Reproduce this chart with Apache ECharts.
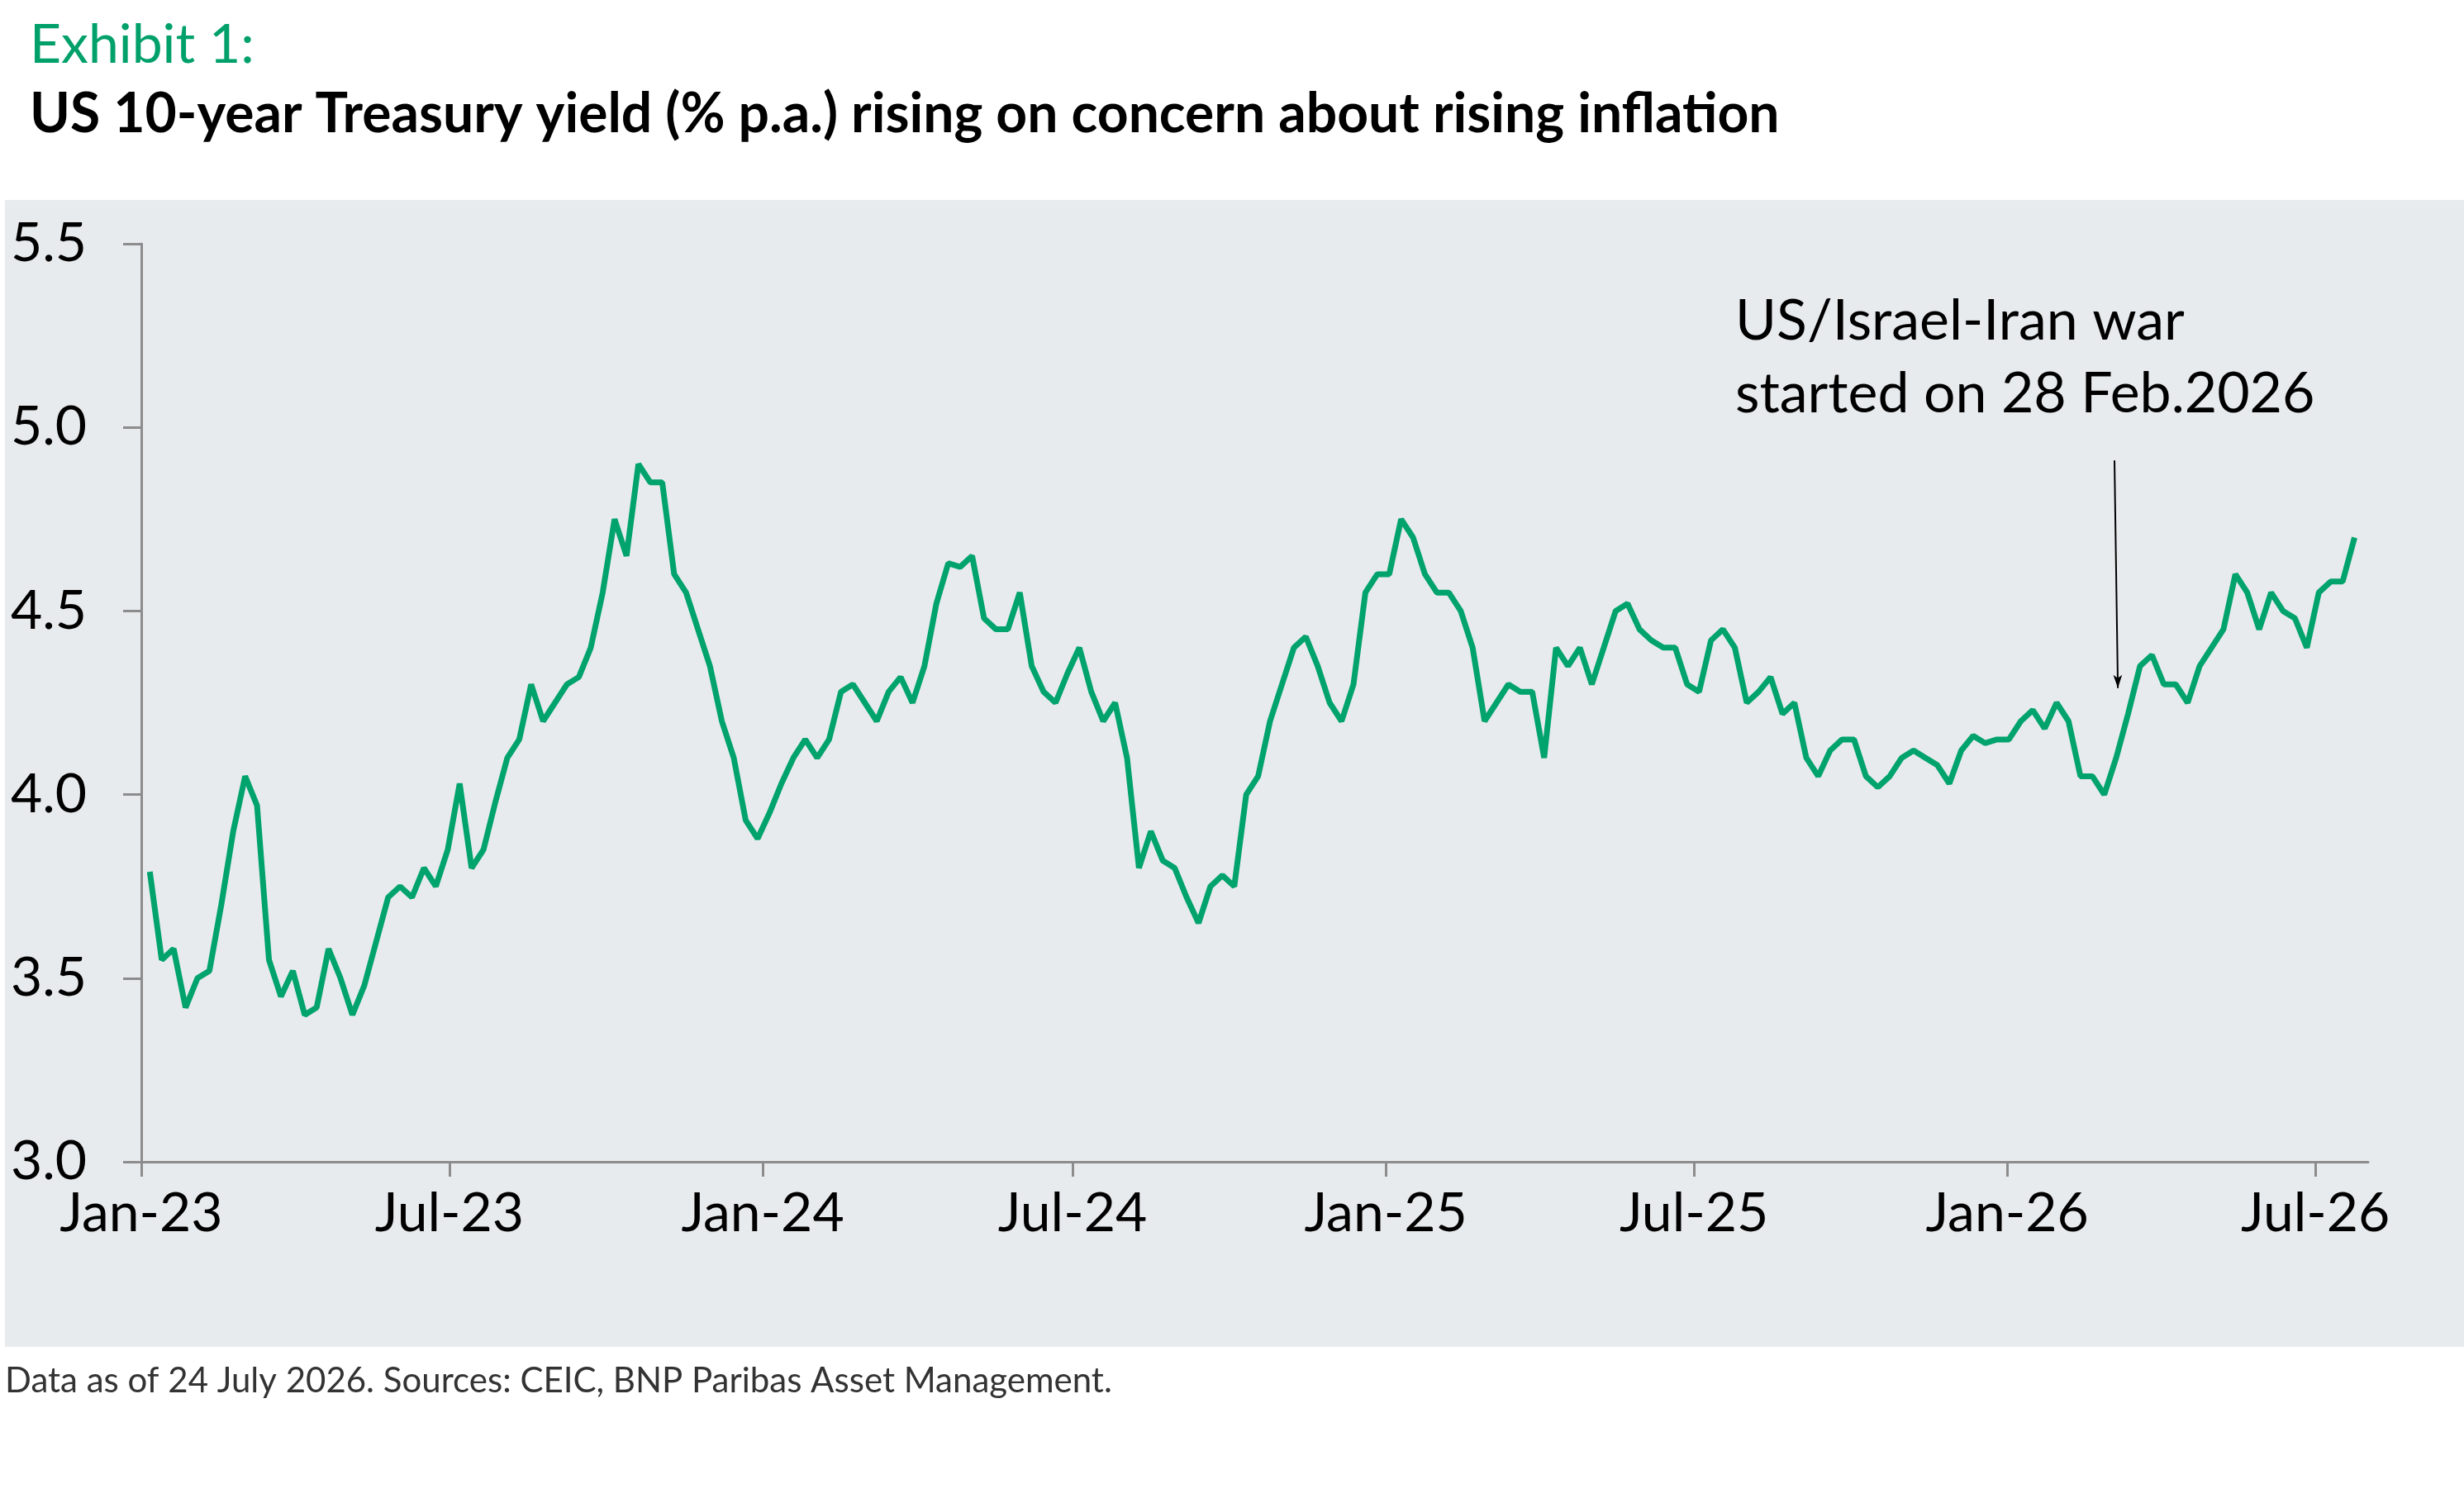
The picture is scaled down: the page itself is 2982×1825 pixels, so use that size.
<!DOCTYPE html>
<html>
<head>
<meta charset="utf-8">
<script src="https://cdn.jsdelivr.net/npm/echarts@6/dist/echarts.min.js"></script>
<style>
  html, body { margin: 0; padding: 0; background: #fff; }
  #chart { width: 2982px; height: 1825px; }
</style>
</head>
<body>
<div id="chart"></div>
<script>
// weekly 10y yield, first week ending 6 Jan 2023
var startDate = '2023-01-06';
var yields = [
  3.79, 3.55, 3.58, 3.42, 3.50, 3.52, 3.70, 3.90, 4.05, 3.97,
  3.55, 3.45, 3.52, 3.40, 3.42, 3.58, 3.50, 3.40, 3.48, 3.60,
  3.72, 3.75, 3.72, 3.80, 3.75, 3.85, 4.03, 3.80, 3.85, 3.98,
  4.10, 4.15, 4.30, 4.20, 4.25, 4.30, 4.32, 4.40, 4.55, 4.75,
  4.65, 4.90, 4.85, 4.85, 4.60, 4.55, 4.45, 4.35, 4.20, 4.10,
  3.93, 3.88, 3.95, 4.03, 4.10, 4.15, 4.10, 4.15, 4.28, 4.30,
  4.25, 4.20, 4.28, 4.32, 4.25, 4.35, 4.52, 4.63, 4.62, 4.65,
  4.48, 4.45, 4.45, 4.55, 4.35, 4.28, 4.25, 4.33, 4.40, 4.28,
  4.20, 4.25, 4.10, 3.80, 3.90, 3.82, 3.80, 3.72, 3.65, 3.75,
  3.78, 3.75, 4.00, 4.05, 4.20, 4.30, 4.40, 4.43, 4.35, 4.25,
  4.20, 4.30, 4.55, 4.60, 4.60, 4.75, 4.70, 4.60, 4.55, 4.55,
  4.50, 4.40, 4.20, 4.25, 4.30, 4.28, 4.28, 4.10, 4.40, 4.35,
  4.40, 4.30, 4.40, 4.50, 4.52, 4.45, 4.42, 4.40, 4.40, 4.30,
  4.28, 4.42, 4.45, 4.40, 4.25, 4.28, 4.32, 4.22, 4.25, 4.10,
  4.05, 4.12, 4.15, 4.15, 4.05, 4.02, 4.05, 4.10, 4.12, 4.10,
  4.08, 4.03, 4.12, 4.16, 4.14, 4.15, 4.15, 4.20, 4.23, 4.18,
  4.25, 4.20, 4.05, 4.05, 4.00, 4.10, 4.22, 4.35, 4.38, 4.30,
  4.30, 4.25, 4.35, 4.40, 4.45, 4.60, 4.55, 4.45, 4.55, 4.50,
  4.48, 4.40, 4.55, 4.58, 4.58, 4.70
];
var tickDates = ['2023-01-01', '2023-07-01', '2024-01-01', '2024-07-01', '2025-01-01',
  '2025-07-01', '2026-01-01', '2026-07-01'];
var tickLabels = ['Jan-23', 'Jul-23', 'Jan-24', 'Jul-24', 'Jan-25', 'Jul-25', 'Jan-26', 'Jul-26'];
var warArrow = [['2026-03-05', 4.91], ['2026-03-07', 4.29]];
var trendArrow = [['2026-02-21', 3.835], ['2026-08-17', 4.485]];

function ts(d) { return new Date(d + 'T00:00:00Z').getTime(); }
var points = [];
var t0 = ts(startDate);
for (var i = 0; i < yields.length; i++) {
  points.push([t0 + i * 7 * 86400000, yields[i]]);
}
var tickTimes = tickDates.map(ts);
function toTime(p) { return [ts(p[0]), p[1]]; }

var font = 'Lato, "Noto Sans", sans-serif';
var chart = echarts.init(document.getElementById('chart'));
chart.setOption({
  backgroundColor: '#ffffff',
  animation: false,
  graphic: [
    { type: 'rect', left: 6, top: 242, shape: { width: 2976, height: 1388 }, style: { fill: '#e8ebee' }, z: -10 },
    { type: 'text', left: 36, top: 22, style: { text: 'Exhibit 1:', fill: '#00a06a', font: '66px ' + font } },
    { type: 'text', left: 36, top: 106, style: { text: 'US 10-year Treasury yield (% p.a.) rising on concern about rising inflation', fill: '#000', font: 'bold 66px ' + font } },
    { type: 'text', left: 6, top: 1650, style: { text: 'Data as of 24 July 2026. Sources: CEIC, BNP Paribas Asset Management.', fill: '#333', font: '42px ' + font } },
    { type: 'text', left: 2100, top: 345, style: { text: 'US/Israel-Iran war\nstarted on 28 Feb.2026', fill: '#000', font: '68px ' + font, lineHeight: 88 } }
  ],
  grid: { left: 171, right: 116, top: 295, bottom: 419 },
  xAxis: {
    type: 'value',
    min: ts('2023-01-01'),
    max: ts('2026-08-01'),
    axisLine: { lineStyle: { color: '#8c8c8c', width: 3 } },
    axisTick: { show: true, customValues: tickTimes, length: 18, lineStyle: { color: '#8c8c8c', width: 3 } },
    axisLabel: {
      customValues: tickTimes,
      margin: 30,
      fontSize: 66,
      fontFamily: font,
      color: '#000',
      formatter: function (v) {
        var idx = tickTimes.indexOf(v);
        return idx >= 0 ? tickLabels[idx] : '';
      }
    },
    splitLine: { show: false }
  },
  yAxis: {
    type: 'value',
    min: 3.0,
    max: 5.5,
    interval: 0.5,
    axisLine: { show: true, lineStyle: { color: '#8c8c8c', width: 3 } },
    axisTick: { show: true, length: 22, lineStyle: { color: '#8c8c8c', width: 3 } },
    axisLabel: {
      fontSize: 66,
      fontFamily: font,
      color: '#000',
      align: 'left',
      margin: 158,
      formatter: function (v) { return v.toFixed(1); }
    },
    splitLine: { show: false }
  },
  series: [{
    type: 'line',
    data: points,
    showSymbol: false,
    clip: false,
    lineStyle: { color: '#00a36c', width: 7 },
    markLine: {
      silent: true,
      symbol: ['none', 'arrow'],
      label: { show: false },
      data: [
        [{ coord: toTime(warArrow[0]), lineStyle: { color: '#000', width: 2, type: 'solid' }, symbolSize: 26 },
         { coord: toTime(warArrow[1]) }],
        [{ coord: toTime(trendArrow[0]), lineStyle: { color: '#ff0000', width: 7, type: 'solid' }, symbolSize: 34 },
         { coord: toTime(trendArrow[1]) }]
      ]
    }
  }]
});
</script>
</body>
</html>
